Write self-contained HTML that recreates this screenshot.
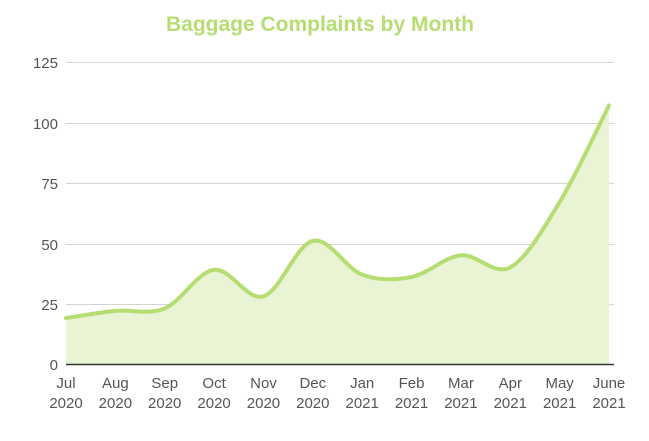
<!DOCTYPE html>
<html><head><meta charset="utf-8"><style>
body{margin:0;background:#fff;width:649px;height:436px;overflow:hidden}
text{font-family:"Liberation Sans",sans-serif}
</style></head><body>
<svg id="s" width="649" height="436" xmlns="http://www.w3.org/2000/svg">
<text x="320" y="31" text-anchor="middle" font-size="21" font-weight="bold" fill="#b5dd72">Baggage Complaints by Month</text>
<g stroke="#d4d4d4" stroke-width="1">
<line x1="66" x2="614" y1="62.5" y2="62.5"/><line x1="66" x2="614" y1="123.5" y2="123.5"/>
<line x1="66" x2="614" y1="183.5" y2="183.5"/><line x1="66" x2="614" y1="244.5" y2="244.5"/>
<line x1="66" x2="614" y1="304.5" y2="304.5"/>
</g>
<g font-size="15" fill="#555" text-anchor="end">
<text x="58" y="68">125</text><text x="58" y="129">100</text><text x="58" y="189">75</text>
<text x="58" y="250">50</text><text x="58" y="310">25</text><text x="58" y="370">0</text>
</g>
<path id="area" fill="#e8f4d4"/>
<path id="line" fill="none" stroke="#b5dd72" stroke-width="4" stroke-linecap="round"/>
<line x1="66" x2="614" y1="364.5" y2="364.5" stroke="#333" stroke-width="1.5"/>
<g id="xl" font-size="15" fill="#555" text-anchor="middle"></g>
</svg>
<script>
var v=[19,22,23,39,28,51,37,36,45,40,67,107];
var m=["Jul","Aug","Sep","Oct","Nov","Dec","Jan","Feb","Mar","Apr","May","June"];
var P=v.map(function(d,i){return [66+i*543/11,364-d*2.416]});
var d="M"+P[0][0]+","+P[0][1];
for(var i=0;i<P.length-1;i++){
 var p0=P[Math.max(0,i-1)],p1=P[i],p2=P[i+1],p3=P[Math.min(P.length-1,i+2)];
 var t=0.5/3;
 d+=" C"+(p1[0]+(p2[0]-p0[0])*t)+","+(p1[1]+(p2[1]-p0[1])*t)+" "+(p2[0]-(p3[0]-p1[0])*t)+","+(p2[1]-(p3[1]-p1[1])*t)+" "+p2[0]+","+p2[1];
}
document.getElementById("line").setAttribute("d",d);
document.getElementById("area").setAttribute("d",d+" L609,364 L66,364 Z");
var g=document.getElementById("xl"),h="";
P.forEach(function(p,i){h+='<text x="'+p[0]+'" y="388">'+m[i]+'</text><text x="'+p[0]+'" y="408">'+(i<6?2020:2021)+'</text>'});
g.innerHTML=h;
</script>
</body></html>
